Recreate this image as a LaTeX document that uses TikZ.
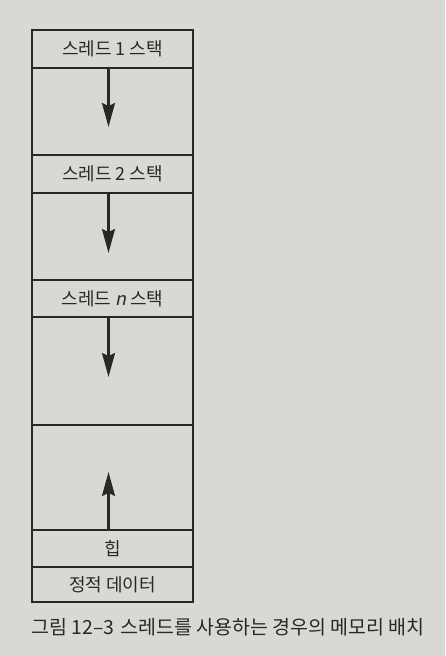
\documentclass[tikz,border=0pt]{standalone}
\usepackage{fontspec}
\setmainfont{Noto Sans CJK KR}
\newfontfamily\slantfont[FakeSlant=0.2]{Noto Sans CJK KR}
\usetikzlibrary{arrows.meta,calc}
\definecolor{paper}{RGB}{216,216,213}
\definecolor{ink}{RGB}{40,40,40}
\tikzset{
  cell/.style={draw=ink, line width=1.8pt, minimum width=161pt, inner sep=0pt, outer sep=0pt, anchor=north, font=\fontsize{18}{19}\selectfont, text=ink},
  arr/.style={draw=ink, line width=2.2pt, -{Stealth[length=24pt,width=13pt,inset=3pt]}}
}
\begin{document}
\begin{tikzpicture}[x=1pt,y=-1pt]
\fill[paper] (0,0) rectangle (445,656);
\useasboundingbox (0,0) rectangle (445,656);
\node[cell, minimum height=38pt] (s1) at (112.5,30) {스레드 1 스택};
\node[cell, minimum height=87pt] (g1) at (s1.south) {};
\node[cell, minimum height=38pt] (s2) at (g1.south) {스레드 2 스택};
\node[cell, minimum height=87pt] (g2) at (s2.south) {};
\node[cell, minimum height=37pt] (sn) at (g2.south) {스레드 {\slantfont n} 스택};
\node[cell, minimum height=108pt] (gn) at (sn.south) {};
\node[cell, minimum height=105pt] (fr) at (gn.south) {};
\node[cell, minimum height=37pt] (hp) at (fr.south) {힙};
\node[cell, minimum height=35pt] (sd) at (hp.south) {정적 데이터};
\coordinate (f1) at ($(g1.north)+(-4,0)$);
\coordinate (t1) at ($(g1.north)+(-4,59)$);
\coordinate (f2) at ($(g2.north)+(-4,0)$);
\coordinate (t2) at ($(g2.north)+(-4,60)$);
\coordinate (f3) at ($(gn.north)+(-4,0)$);
\coordinate (t3) at ($(gn.north)+(-4,60)$);
\coordinate (f4) at ($(fr.south)+(-4,0)$);
\coordinate (t4) at ($(fr.south)+(-4,-58)$);
\draw[arr] (f1) -- (t1);
\draw[arr] (f2) -- (t2);
\draw[arr] (f3) -- (t3);
\draw[arr] (f4) -- (t4);
\node[anchor=west, inner sep=0pt, text=ink, font=\fontsize{19.5}{20}\selectfont] (cap) at (31,627) {그림 12–3\hspace{6pt}스레드를 사용하는 경우의 메모리 배치};
\end{tikzpicture}
\end{document}
